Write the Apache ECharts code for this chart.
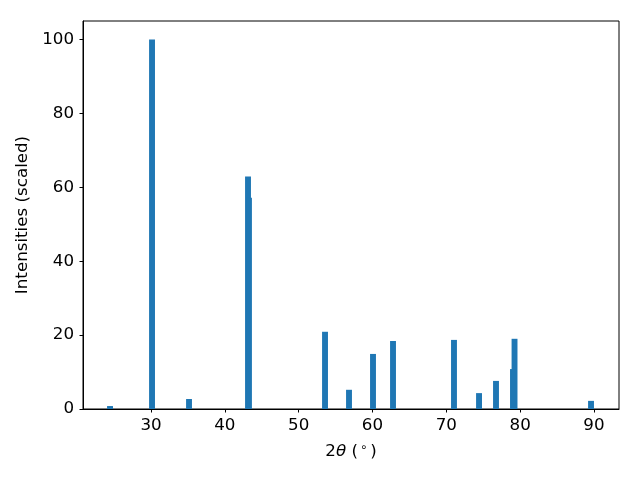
<!DOCTYPE html>
<html>
<head>
<meta charset="utf-8">
<script src="https://cdn.jsdelivr.net/npm/echarts@6/dist/echarts.min.js"></script>
<style>html,body{margin:0;padding:0;background:#fff}#c{width:640px;height:480px}</style>
</head>
<body>
<div id="c"></div>
<script>
// Peak positions (2θ, degrees) and scaled intensities
const peakPositions = [24.45, 30.14, 35.15, 43.14, 43.27, 53.57, 56.82, 60.07, 62.78, 71.04, 74.43, 76.73, 79.03, 79.24, 89.6];
const peakIntensities = [0.8, 100, 2.7, 62.9, 57.2, 20.9, 5.2, 14.9, 18.4, 18.7, 4.3, 7.6, 10.8, 19.0, 2.2];
const xTicks = [30, 40, 50, 60, 70, 80, 90];
const yTicks = [0, 20, 40, 60, 80, 100];

const BAR_W = 0.8;
const FONT = 'DejaVu Sans';
const FS = 16.7;

const data = peakPositions.map((p, i) => [p, peakIntensities[i]]);

const chart = echarts.init(document.getElementById('c'), null, {renderer: 'canvas'});
chart.setOption({
  animation: false,
  backgroundColor: '#ffffff',
  grid: {left: 83, right: 21, top: 21, bottom: 71, show: true, borderColor: '#000', borderWidth: 1, backgroundColor: 'transparent'},
  xAxis: {
    type: 'value', min: 20.79, max: 93.39,
    name: '{n|2}{i|θ}{n| (}{s|∘}{n|)}',
    nameLocation: 'middle', nameGap: 33,
    nameTextStyle: {rich: {
      n: {fontFamily: FONT, fontSize: FS, color: '#000'},
      i: {fontFamily: FONT, fontSize: FS, fontStyle: 'italic', color: '#000'},
      s: {fontFamily: FONT, fontSize: 11.7, color: '#000', verticalAlign: 'top', padding: [0, 3, 8, 2]}
    }},
    axisLine: {show: true, onZero: false, lineStyle: {color: '#000', width: 1}},
    axisTick: {show: true, length: 3.5, lineStyle: {color: '#000'}, customValues: xTicks},
    axisLabel: {customValues: xTicks, color: '#000', fontFamily: FONT, fontSize: FS, margin: 8},
    splitLine: {show: false}
  },
  yAxis: {
    type: 'value', min: 0, max: 105,
    name: 'Intensities (scaled)',
    nameLocation: 'middle', nameGap: 47,
    nameTextStyle: {fontFamily: FONT, fontSize: FS, color: '#000'},
    axisLine: {show: true, onZero: false, lineStyle: {color: '#000', width: 1}},
    axisTick: {show: true, length: 3.5, lineStyle: {color: '#000'}, customValues: yTicks},
    axisLabel: {customValues: yTicks, color: '#000', fontFamily: FONT, fontSize: FS, margin: 9},
    splitLine: {show: false}
  },
  series: [{
    type: 'custom',
    data: data,
    encode: {x: 0, y: 1},
    clip: true,
    renderItem: function (params, api) {
      const x = api.value(0), y = api.value(1);
      const tl = api.coord([x - BAR_W / 2, y]);
      const br = api.coord([x + BAR_W / 2, 0]);
      return {
        type: 'rect',
        shape: {x: tl[0], y: tl[1], width: br[0] - tl[0], height: br[1] - tl[1]},
        style: {fill: '#1f77b4'}
      };
    }
  }]
});
</script>
</body>
</html>
